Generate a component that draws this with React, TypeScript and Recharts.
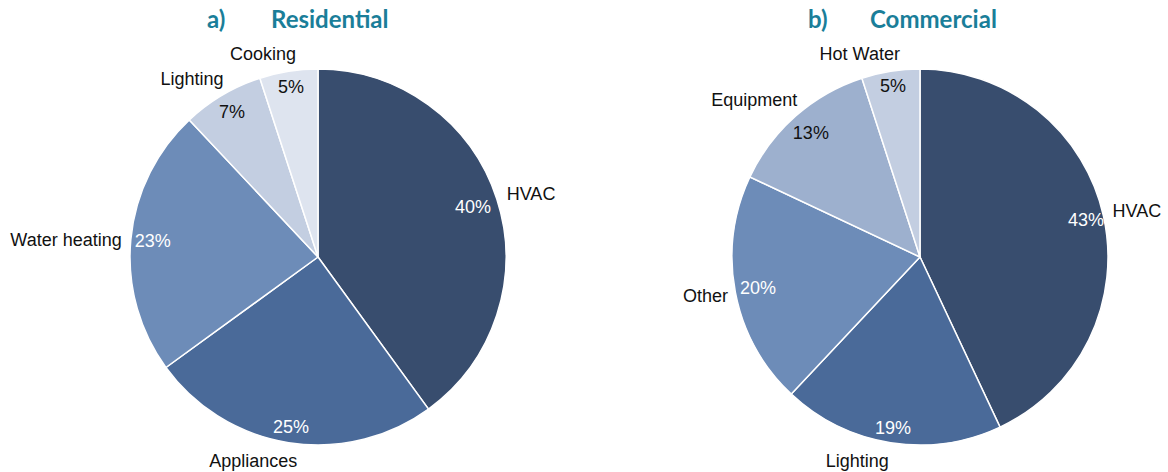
import React from "react";
import { PieChart, Pie, Cell } from "recharts";

const resCategories = ["HVAC", "Appliances", "Water heating", "Lighting", "Cooking"];
const resValues = [40, 25, 23, 7, 5];
const comCategories = ["HVAC", "Lighting", "Other", "Equipment", "Hot Water"];
const comValues = [43, 19, 20, 13, 5];

const resColors = ["#384D6E", "#4A6A99", "#6D8CB8", "#C3CEE1", "#DEE4EF"];
const comColors = ["#384D6E", "#4A6A99", "#6D8CB8", "#9DB0CE", "#C3CEE1"];
const resPctColors = ["#fff", "#fff", "#fff", "#111", "#111"];
const comPctColors = ["#fff", "#fff", "#fff", "#111", "#111"];

// label placement styling: [pctRadius, catRadius, catAngleShift, anchor]
const resLabelStyle: [number, number, number, string][] = [
  [163, 199, 0.5, "start"],
  [172, 214, -8.6, "middle"],
  [166, 197, 0.4, "end"],
  [169, 218, 4.7, "middle"],
  [172, 210, 6.2, "middle"],
];
const comLabelStyle: [number, number, number, string][] = [
  [170, 198, 0.8, "start"],
  [173, 213, -8.1, "middle"],
  [165, 196, 0.7, "end"],
  [165, 228, 5.2, "middle"],
  [173, 212, 7.5, "middle"],
];

const resData = resCategories.map((c, i) => ({ name: c, value: resValues[i] }));
const comData = comCategories.map((c, i) => ({ name: c, value: comValues[i] }));

const RAD = Math.PI / 180;
const FONT = "'Liberation Sans', Arial, sans-serif";

function makeLabel(styles: [number, number, number, string][], pctColors: string[]) {
  return (props: any) => {
    const { cx, cy, midAngle, index, name, value } = props;
    const [pr, cr, shift, anchor] = styles[index];
    const px = cx + pr * Math.cos(-midAngle * RAD);
    const py = cy + pr * Math.sin(-midAngle * RAD);
    const a = midAngle + shift;
    const lx = cx + cr * Math.cos(-a * RAD);
    const ly = cy + cr * Math.sin(-a * RAD);
    return (
      <g key={`lbl-${index}`}>
        <text x={px} y={py} textAnchor="middle" dominantBaseline="central" fill={pctColors[index]} fontSize={18} fontFamily={FONT}>
          {`${value}%`}
        </text>
        <text x={lx} y={ly} textAnchor={anchor as any} dominantBaseline="central" fill="#111" fontSize={18} fontFamily={FONT}>
          {name}
        </text>
      </g>
    );
  };
}

export default function App() {
  return (
    <div style={{ position: "absolute", left: 0, top: 0, width: 1168, height: 472, background: "#fff" }}>
      <PieChart width={1168} height={472} margin={{ top: 0, right: 0, bottom: 0, left: 0 }} style={{ position: "absolute", left: 0, top: 0 }}>
        <Pie
          data={resData}
          dataKey="value"
          nameKey="name"
          cx={318}
          cy={257}
          outerRadius={188}
          startAngle={90}
          endAngle={-270}
          stroke="#fff"
          strokeWidth={1.5}
          labelLine={false}
          label={makeLabel(resLabelStyle, resPctColors)}
          isAnimationActive={false}
        >
          {resData.map((d, i) => (
            <Cell key={d.name} fill={resColors[i]} />
          ))}
        </Pie>
        <Pie
          data={comData}
          dataKey="value"
          nameKey="name"
          cx={920}
          cy={257}
          outerRadius={188}
          startAngle={90}
          endAngle={-270}
          stroke="#fff"
          strokeWidth={1.5}
          labelLine={false}
          label={makeLabel(comLabelStyle, comPctColors)}
          isAnimationActive={false}
        >
          {comData.map((d, i) => (
            <Cell key={d.name} fill={comColors[i]} />
          ))}
        </Pie>
      </PieChart>
      <svg width={1168} height={40} style={{ position: "absolute", left: 0, top: 0 }}>
        <g fontFamily="Lato, 'Open Sans', sans-serif" fontWeight="bold" fontSize={24} fill="#1A7E99">
          <text x={207} y={28}>a)</text>
          <text x={271} y={28}>Residential</text>
          <text x={808} y={28}>b)</text>
          <text x={870} y={28}>Commercial</text>
        </g>
      </svg>
    </div>
  );
}
